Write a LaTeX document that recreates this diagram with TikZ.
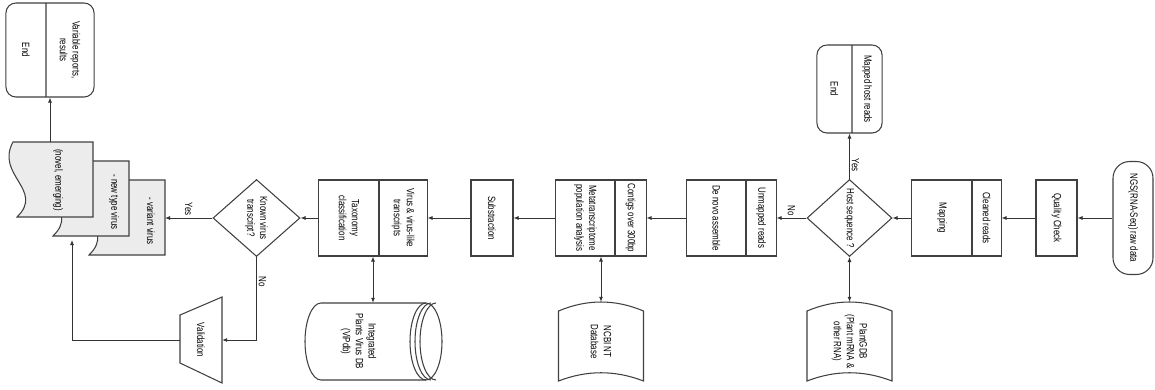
\documentclass[tikz,border=0pt]{standalone}
\usepackage{fontspec}
\setmainfont{Liberation Sans}[FakeStretch=0.75]
\usetikzlibrary{shapes.geometric,shapes.multipart,arrows.meta}
\newcommand{\partbox}[2]{\parbox[c][#1][c]{2.2cm}{\centering #2}}

\begin{document}
\begin{tikzpicture}[x=0.03cm, y=-0.03cm,
    every node/.style={rotate=-90, font=\fontsize{9}{11}\selectfont, text=black, align=center},
    shapeline/.style={draw=black!75, line width=0.9pt, fill=white},
    box/.style={shapeline, rectangle, minimum width=2.28cm, inner sep=1pt},
    split/.style={box, rectangle split, rectangle split parts=2, inner sep=0pt},
    term/.style={split, rounded corners=0.3cm},
    decision/.style={shapeline, diamond, aspect=0.9, inner sep=0pt, minimum width=2.31cm},
    hidden/.style={inner sep=0pt},
    lbl/.style={inner sep=1.5pt},
    arr/.style={draw=black!80, line width=0.7pt, -{Latex[length=1.5mm, width=1.2mm]}},
    twoway/.style={arr, {Latex[length=1.5mm, width=1.2mm]}-{Latex[length=1.5mm, width=1.2mm]}}
  ]
  \useasboundingbox[fill=white] (0,0) rectangle (1155,389);

  % result documents, back to front
  \foreach \dx/\dy in {72/38, 36/19, 0/0}
    \draw[shapeline, fill=gray!15] (13+\dx,142+\dy) -- (93+\dx,142+\dy) -- (93+\dx,217+\dy) -- (17+\dx,217+\dy)
      .. controls (45+\dx,190+\dy) and (-5+\dx,175+\dy) .. (13+\dx,142+\dy) -- cycle;

  % stored data
  \foreach \cx in {601, 849.5}
    \draw[shapeline] (\cx-42.5,311) .. controls (\cx-14,299) and (\cx+14,299) .. (\cx+42.5,311)
      -- (\cx+42.5,381) .. controls (\cx+14,370) and (\cx-14,370) .. (\cx-42.5,381) -- cycle;

  % database cylinder
  \draw[shapeline] (321,303) -- (426,303) arc[start angle=270, end angle=450, x radius=16, y radius=38.5]
    -- (321,380) arc[start angle=90, end angle=270, x radius=16, y radius=38.5] -- cycle;
  \foreach \ox in {0,5,10}
    \draw[shapeline, fill=none] (426+\ox,303) arc[start angle=270, end angle=90, x radius=16, y radius=38.5];

  % manual operation
  \draw[shapeline] (180,315) -- (222,297) -- (222,383) -- (180,363) -- cycle;

  \node (ngs) [box, minimum width=3.39cm, minimum height=1.2cm, rounded corners=0.5cm] at (1133,218) {NGS(RNA-Seq) raw data};
  \node (qc) [box, minimum height=1.23cm] at (1056.5,218) {Quality Check};
  \node (map) [split] at (956.5,218) {\partbox{0.84cm}{Cleaned reads}\nodepart{two}\partbox{1.77cm}{Mapping}};
  \node (host) [decision, minimum height=2.55cm] at (849.5,218) {Host sequence ?};
  \node (mapped) [term, minimum width=2.64cm] at (849.5,89) {\partbox{0.87cm}{Mapped host reads}\nodepart{two}\partbox{1.02cm}{End}};
  \node (plant) [hidden, minimum width=2.37cm, minimum height=2.55cm] at (849.5,341.5) {PlantGDB\\(Plant mRNA \&\\other RNA)};
  \node (unmap) [split] at (731.5,218) {\partbox{0.87cm}{Unmapped reads}\nodepart{two}\partbox{1.74cm}{De novo assemble}};
  \node (contigs) [split] at (601,218) {\partbox{0.9cm}{Contigs over 300bp}\nodepart{two}\partbox{1.74cm}{Metatranscriptome\\population analysis}};
  \node (ncbi) [hidden, minimum width=2.37cm, minimum height=2.55cm] at (601,341.5) {NCBI NT\\Database};
  \node (subs) [box, minimum height=1.26cm] at (492,218) {Substraction};
  \node (virus) [split] at (373,218) {\partbox{1.41cm}{Virus \& virus-like\\transcripts}\nodepart{two}\partbox{1.77cm}{Taxonomy\\classification}};
  \node (vipdb) [hidden, minimum width=2.31cm, minimum height=3.21cm] at (358.5,341.5) {Integrated\\Plants Virus DB\\(ViPdb)};
  \node (known) [decision, minimum height=2.61cm] at (256.5,218) {Known virus\\transcript?};
  \node (valid) [hidden, minimum width=2.58cm, minimum height=1.26cm] at (201,340) {Validation};
  \node (final) [term, minimum width=2.82cm] at (50,50) {\partbox{1.41cm}{Variable reports,\\results}\nodepart{two}\partbox{1.17cm}{End}};
  \node (novel) [hidden] at (58,180) {(novel, emerging)};
  \node (newtype) [hidden] at (114,202) {- new type virus};
  \node (variant) [hidden] at (151,221) {- variant virus};
  \coordinate (stackR) at (165,218);
  \coordinate (stackB) at (72,240);
  \coordinate (stackT) at (50,142);

  \draw[arr] (ngs) -- (qc);
  \draw[arr] (qc) -- (map);
  \draw[arr] (map) -- (host);
  \draw[arr] (host) -- node[lbl, pos=0.3, anchor=south] {Yes} (mapped);
  \draw[twoway] (host) -- (plant);
  \draw[arr] (host) -- node[lbl, pos=0.5, anchor=east] {No} (unmap);
  \draw[arr] (unmap) -- (contigs);
  \draw[twoway] (contigs) -- (ncbi);
  \draw[arr] (contigs) -- (subs);
  \draw[arr] (subs) -- (virus);
  \draw[twoway] (virus) -- (virus |- vipdb.west);
  \draw[arr] (virus) -- (known);
  \draw[arr] (known) -- node[lbl, pos=0.5, anchor=east] {Yes} (stackR);
  \draw[arr] (known) |- node[lbl, pos=0.15, anchor=south] {No} (valid);
  \draw[arr] (valid) -| (stackB);
  \draw[arr] (stackT) -- (final);
\end{tikzpicture}
\end{document}
